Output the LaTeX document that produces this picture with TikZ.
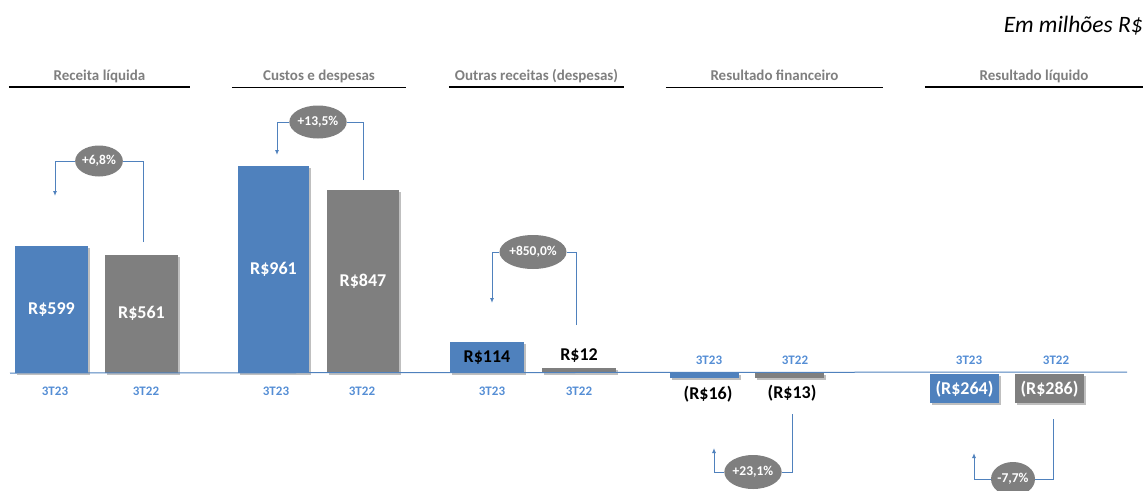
\documentclass[tikz,border=0pt]{standalone}
\usepackage{fontspec}
\setmainfont{Carlito}
\usetikzlibrary{arrows.meta,shapes.geometric,shadows}
\definecolor{barblue}{HTML}{4F81BD}
\definecolor{bargray}{HTML}{7F7F7F}
\definecolor{catblue}{HTML}{558ED5}
\begin{document}
\begin{tikzpicture}[
       x = 1pt, y = -1pt,
     bar/.style = {draw=none, inner sep=0pt, font=\fontsize{18}{20}\selectfont\bfseries,
                   text=white, drop shadow={shadow xshift=2pt, shadow yshift=-2pt, opacity=0.25, fill=black}},
     val/.style = {inner sep=0pt, font=\fontsize{18}{20}\selectfont\bfseries},
     cat/.style = {inner sep=0pt, text=catblue, font=\fontsize{13}{15}\selectfont\bfseries},
     ttl/.style = {inner xsep=0pt, inner ysep=0pt, text height=11pt, text depth=7pt, anchor=base,
                   text=bargray, font=\fontsize{15}{17}\selectfont\bfseries},
     pct/.style = {ellipse, fill=bargray, inner sep=0pt, text=white, font=\fontsize{13.5}{15}\selectfont\bfseries},
     lnk/.style = {draw=barblue, line width=1pt},
every label/.append style = {font=\small}
                    ]
\useasboundingbox (0,0) rectangle (1148,490);

\node[anchor=base east, inner sep=0pt, font=\fontsize{23.5}{26}\selectfont\itshape] (unit) at (1143,32) {Em milhões R\$};

\node[ttl, minimum width=181pt] (t1) at (99.5,80)  {Receita líquida};
\node[ttl, minimum width=174pt] (t2) at (319,80)   {Custos e despesas};
\node[ttl, minimum width=175pt] (t3) at (536.5,80) {Outras receitas (despesas)};
\node[ttl, minimum width=217pt] (t4) at (774.5,80) {Resultado financeiro};
\node[ttl, minimum width=218pt] (t5) at (1034,80)  {Resultado líquido};

\path [-] (t1.south west) edge[line width=2pt] (t1.south east);
\path [-] (t2.south west) edge[line width=1pt] (t2.south east);
\path [-] (t3.south west) edge[line width=2pt] (t3.south east);
\path [-] (t4.south west) edge[line width=1pt] (t4.south east);
\path [-] (t5.south west) edge[line width=2pt] (t5.south east);

\node[bar, fill=barblue, anchor=south, minimum width=73pt, minimum height=127pt] (rl23) at (51.5,373)  {R\$599};
\node[bar, fill=bargray, anchor=south, minimum width=73pt, minimum height=118pt] (rl22) at (141.5,373) {R\$561};
\node[bar, fill=barblue, anchor=south, minimum width=71pt, minimum height=207pt] (cd23) at (273.5,373) {R\$961};
\node[bar, fill=bargray, anchor=south, minimum width=72pt, minimum height=183pt] (cd22) at (363,373)   {R\$847};
\node[bar, fill=barblue, anchor=south, minimum width=74pt, minimum height=31pt, text=black] (or23) at (487,373) {R\$114};
\node[bar, fill=bargray, anchor=south, minimum width=74pt, minimum height=5pt]  (or22) at (579,373)   {};
\node[bar, fill=barblue, anchor=north, minimum width=69pt, minimum height=5pt]  (rf23) at (704.5,373) {};
\node[bar, fill=bargray, anchor=north, minimum width=69pt, minimum height=5pt]  (rf22) at (789.5,373) {};
\node[bar, fill=barblue, anchor=north, minimum width=69pt, minimum height=29pt] (rq23) at (964.5,374) {(R\$264)};
\node[bar, fill=bargray, anchor=north, minimum width=69pt, minimum height=29pt] (rq22) at (1049.5,374) {(R\$286)};

\node[val] (or22v) at (579,356) {R\$12};
\node[val] (rf23v) at (708,394) {(R\$16)};
\node[val] (rf22v) at (792,393) {(R\$13)};

\coordinate (ax1) at (10,373);
\coordinate (ax2) at (1127,372);
\path [-] (ax1) edge[draw=barblue, line width=1pt] (ax2);

\node[cat] (c1) at (55,391)   {3T23};
\node[cat] (c2) at (146,391)  {3T22};
\node[cat] (c3) at (276,391)  {3T23};
\node[cat] (c4) at (362,391)  {3T22};
\node[cat] (c5) at (492,391)  {3T23};
\node[cat] (c6) at (579,391)  {3T22};
\node[cat] (c7) at (709,360)  {3T23};
\node[cat] (c8) at (795,360)  {3T22};
\node[cat] (c9) at (969,360)  {3T23};
\node[cat] (c10) at (1056,360) {3T22};

\node[pct, minimum width=43pt, minimum height=31pt] (p1) at (99,161)  {+6,8\%};
\node[pct, minimum width=44pt, minimum height=33pt] (p2) at (318,122) {+13,5\%};
\node[pct, minimum width=54pt, minimum height=34pt] (p3) at (533,252) {+850,0\%};
\node[pct, minimum width=40pt, minimum height=34pt] (p4) at (753,472) {+23,1\%};
\node[pct, minimum width=41pt, minimum height=34pt] (p5) at (1013,479) {-7,7\%};

\coordinate (a1s) at (143,242);  \coordinate (a1e) at (55,196);
\coordinate (a2s) at (363,180);  \coordinate (a2e) at (277,155);
\coordinate (a3s) at (576,325);  \coordinate (a3e) at (492,303);
\coordinate (a4s) at (792,414);  \coordinate (a4e) at (714,448);
\coordinate (a5s) at (1053,419); \coordinate (a5e) at (974,453);

\foreach \i in {1,...,5}{
  \draw[lnk] (a\i s) |- (p\i);
  \draw[lnk, -{Latex[length=5pt,width=4pt]}] (p\i) -| (a\i e);
}

\end{tikzpicture}
\end{document}
